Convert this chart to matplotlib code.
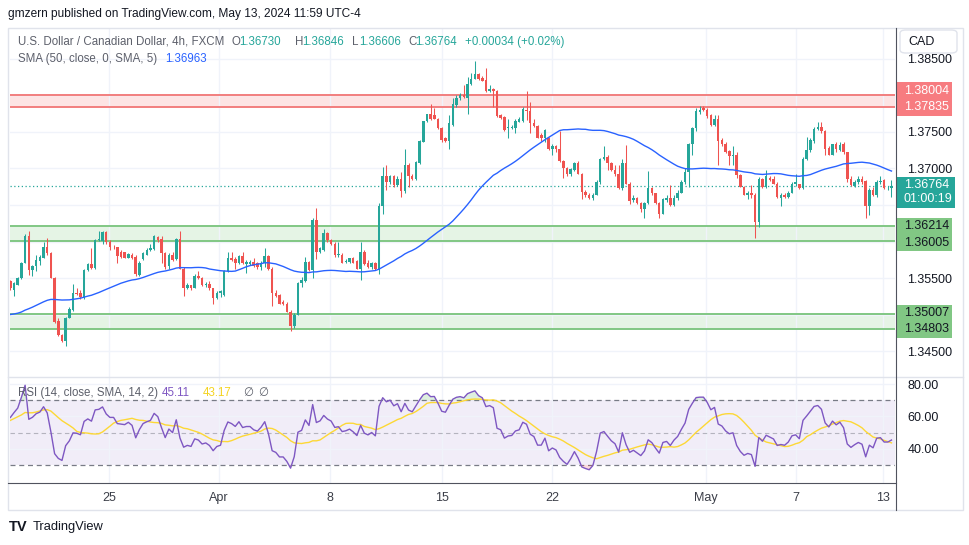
import matplotlib
matplotlib.use("Agg")
import matplotlib.pyplot as plt
from matplotlib.patches import Rectangle, FancyBboxPatch
from matplotlib.lines import Line2D
import numpy as np
import pandas as pd

plt.rcParams['font.family'] = ['Liberation Sans', 'DejaVu Sans']

# ---------------- data (USD/CAD 4h, FXCM) ----------------
opens = [
    1.3546, 1.3534, 1.3541, 1.3550, 1.3571, 1.3607, 1.3561, 1.3566, 1.3574, 1.3578,
    1.3592, 1.3584, 1.3550, 1.3491, 1.3472, 1.3464, 1.3496, 1.3506, 1.3530, 1.3530,
    1.3523, 1.3561, 1.3569, 1.3564, 1.3602, 1.3601, 1.3613, 1.3600, 1.3593, 1.3592,
    1.3586, 1.3585, 1.3578, 1.3582, 1.3579, 1.3554, 1.3576, 1.3582, 1.3588, 1.3590,
    1.3606, 1.3604, 1.3584, 1.3567, 1.3582, 1.3576, 1.3604, 1.3563, 1.3536, 1.3540,
    1.3537, 1.3553, 1.3550, 1.3540, 1.3542, 1.3536, 1.3523, 1.3529, 1.3527, 1.3559,
    1.3578, 1.3576, 1.3570, 1.3580, 1.3569, 1.3569, 1.3572, 1.3570, 1.3565, 1.3571,
    1.3580, 1.3563, 1.3530, 1.3527, 1.3517, 1.3515, 1.3504, 1.3485, 1.3500, 1.3543,
    1.3546, 1.3572, 1.3561, 1.3629, 1.3586, 1.3588, 1.3611, 1.3602, 1.3597, 1.3581,
    1.3582, 1.3572, 1.3572, 1.3577, 1.3573, 1.3563, 1.3586, 1.3571, 1.3565, 1.3570,
    1.3563, 1.3648, 1.3690, 1.3681, 1.3689, 1.3677, 1.3686, 1.3669, 1.3704, 1.3690,
    1.3685, 1.3707, 1.3736, 1.3765, 1.3774, 1.3773, 1.3767, 1.3755, 1.3741, 1.3737,
    1.3760, 1.3787, 1.3796, 1.3800, 1.3797, 1.3816, 1.3823, 1.3829, 1.3824, 1.3821,
    1.3806, 1.3808, 1.3806, 1.3773, 1.3771, 1.3755, 1.3755, 1.3755, 1.3764, 1.3765,
    1.3780, 1.3778, 1.3762, 1.3758, 1.3746, 1.3741, 1.3741, 1.3727, 1.3731, 1.3727,
    1.3710, 1.3700, 1.3692, 1.3698, 1.3708, 1.3693, 1.3668, 1.3664, 1.3659, 1.3664,
    1.3681, 1.3713, 1.3716, 1.3707, 1.3698, 1.3693, 1.3673, 1.3708, 1.3679, 1.3657,
    1.3659, 1.3652, 1.3644, 1.3652, 1.3673, 1.3666, 1.3652, 1.3638, 1.3657, 1.3660,
    1.3650, 1.3659, 1.3667, 1.3681, 1.3695, 1.3733, 1.3755, 1.3777, 1.3782, 1.3780,
    1.3773, 1.3760, 1.3767, 1.3739, 1.3734, 1.3724, 1.3717, 1.3719, 1.3691, 1.3675,
    1.3664, 1.3667, 1.3664, 1.3627, 1.3685, 1.3674, 1.3687, 1.3686, 1.3679, 1.3660,
    1.3663, 1.3661, 1.3667, 1.3678, 1.3678, 1.3673, 1.3713, 1.3725, 1.3737, 1.3754,
    1.3757, 1.3751, 1.3728, 1.3719, 1.3733, 1.3725, 1.3733, 1.3722, 1.3686, 1.3676,
    1.3681, 1.3686, 1.3683, 1.3649, 1.3670, 1.3663, 1.3681, 1.3684, 1.3673, 1.36730,
]
highs = [
    1.3547, 1.3544, 1.3552, 1.3572, 1.3610, 1.3615, 1.3568, 1.3581, 1.3581, 1.3599,
    1.3605, 1.3585, 1.3552, 1.3495, 1.3473, 1.3497, 1.3511, 1.3542, 1.3536, 1.3534,
    1.3562, 1.3570, 1.3591, 1.3604, 1.3614, 1.3614, 1.3614, 1.3602, 1.3595, 1.3593,
    1.3588, 1.3586, 1.3584, 1.3584, 1.3581, 1.3573, 1.3586, 1.3591, 1.3597, 1.3609,
    1.3607, 1.3607, 1.3586, 1.3584, 1.3586, 1.3605, 1.3614, 1.3565, 1.3543, 1.3541,
    1.3555, 1.3560, 1.3552, 1.3545, 1.3546, 1.3537, 1.3532, 1.3534, 1.3561, 1.3586,
    1.3586, 1.3579, 1.3581, 1.3586, 1.3575, 1.3575, 1.3578, 1.3572, 1.3573, 1.3591,
    1.3581, 1.3565, 1.3534, 1.3528, 1.3520, 1.3517, 1.3506, 1.3502, 1.3545, 1.3552,
    1.3579, 1.3574, 1.3632, 1.3646, 1.3593, 1.3617, 1.3613, 1.3604, 1.3600, 1.3600,
    1.3584, 1.3576, 1.3578, 1.3579, 1.3575, 1.3599, 1.3588, 1.3575, 1.3572, 1.3572,
    1.3652, 1.3702, 1.3704, 1.3691, 1.3691, 1.3689, 1.3695, 1.3726, 1.3708, 1.3693,
    1.3710, 1.3739, 1.3765, 1.3774, 1.3788, 1.3782, 1.3769, 1.3757, 1.3743, 1.3773,
    1.3796, 1.3800, 1.3803, 1.3814, 1.3825, 1.3830, 1.3847, 1.3830, 1.3827, 1.3838,
    1.3814, 1.3810, 1.3807, 1.3775, 1.3772, 1.3768, 1.3759, 1.3768, 1.3771, 1.3784,
    1.3806, 1.3791, 1.3768, 1.3759, 1.3748, 1.3754, 1.3743, 1.3733, 1.3732, 1.3751,
    1.3711, 1.3702, 1.3700, 1.3709, 1.3710, 1.3694, 1.3670, 1.3666, 1.3666, 1.3684,
    1.3714, 1.3730, 1.3718, 1.3709, 1.3705, 1.3705, 1.3713, 1.3732, 1.3682, 1.3663,
    1.3661, 1.3654, 1.3654, 1.3696, 1.3675, 1.3667, 1.3654, 1.3660, 1.3663, 1.3677,
    1.3663, 1.3670, 1.3684, 1.3700, 1.3735, 1.3757, 1.3782, 1.3786, 1.3786, 1.3782,
    1.3775, 1.3773, 1.3773, 1.3741, 1.3736, 1.3725, 1.3730, 1.3723, 1.3693, 1.3676,
    1.3669, 1.3677, 1.3666, 1.3688, 1.3687, 1.3698, 1.3689, 1.3689, 1.3682, 1.3666,
    1.3666, 1.3669, 1.3682, 1.3693, 1.3679, 1.3716, 1.3743, 1.3741, 1.3756, 1.3764,
    1.3764, 1.3752, 1.3730, 1.3734, 1.3736, 1.3736, 1.3736, 1.3723, 1.3689, 1.3684,
    1.3689, 1.3689, 1.3684, 1.3673, 1.3675, 1.3684, 1.3689, 1.3686, 1.3676, 1.36846,
]
lows = [
    1.3534, 1.3526, 1.3540, 1.3549, 1.3570, 1.3554, 1.3553, 1.3560, 1.3568, 1.3577,
    1.3581, 1.3550, 1.3488, 1.3471, 1.3463, 1.3457, 1.3495, 1.3505, 1.3527, 1.3522,
    1.3521, 1.3559, 1.3563, 1.3563, 1.3601, 1.3597, 1.3597, 1.3588, 1.3590, 1.3571,
    1.3578, 1.3577, 1.3577, 1.3576, 1.3553, 1.3553, 1.3575, 1.3581, 1.3587, 1.3588,
    1.3600, 1.3571, 1.3563, 1.3563, 1.3573, 1.3575, 1.3562, 1.3526, 1.3535, 1.3534,
    1.3536, 1.3549, 1.3539, 1.3538, 1.3534, 1.3515, 1.3521, 1.3524, 1.3526, 1.3558,
    1.3574, 1.3563, 1.3569, 1.3569, 1.3557, 1.3568, 1.3565, 1.3563, 1.3561, 1.3565,
    1.3561, 1.3512, 1.3524, 1.3514, 1.3513, 1.3503, 1.3477, 1.3482, 1.3499, 1.3538,
    1.3545, 1.3559, 1.3550, 1.3576, 1.3584, 1.3587, 1.3600, 1.3595, 1.3579, 1.3579,
    1.3570, 1.3570, 1.3571, 1.3570, 1.3562, 1.3547, 1.3568, 1.3564, 1.3563, 1.3561,
    1.3556, 1.3638, 1.3670, 1.3679, 1.3675, 1.3676, 1.3661, 1.3667, 1.3675, 1.3684,
    1.3684, 1.3706, 1.3736, 1.3764, 1.3766, 1.3767, 1.3754, 1.3736, 1.3736, 1.3726,
    1.3758, 1.3784, 1.3793, 1.3796, 1.3775, 1.3814, 1.3822, 1.3821, 1.3819, 1.3805,
    1.3804, 1.3784, 1.3771, 1.3767, 1.3751, 1.3742, 1.3754, 1.3748, 1.3763, 1.3764,
    1.3766, 1.3748, 1.3757, 1.3741, 1.3737, 1.3736, 1.3725, 1.3718, 1.3723, 1.3709,
    1.3687, 1.3690, 1.3690, 1.3696, 1.3692, 1.3658, 1.3661, 1.3658, 1.3657, 1.3663,
    1.3679, 1.3711, 1.3698, 1.3696, 1.3690, 1.3672, 1.3670, 1.3678, 1.3651, 1.3654,
    1.3651, 1.3641, 1.3632, 1.3651, 1.3664, 1.3651, 1.3632, 1.3637, 1.3654, 1.3648,
    1.3649, 1.3657, 1.3666, 1.3679, 1.3675, 1.3718, 1.3751, 1.3775, 1.3778, 1.3769,
    1.3758, 1.3758, 1.3704, 1.3731, 1.3721, 1.3705, 1.3705, 1.3687, 1.3674, 1.3663,
    1.3658, 1.3659, 1.3605, 1.3620, 1.3673, 1.3673, 1.3683, 1.3678, 1.3660, 1.3649,
    1.3659, 1.3660, 1.3666, 1.3676, 1.3672, 1.3672, 1.3711, 1.3723, 1.3735, 1.3752,
    1.3749, 1.3718, 1.3718, 1.3718, 1.3723, 1.3724, 1.3720, 1.3682, 1.3676, 1.3674,
    1.3679, 1.3679, 1.3632, 1.3636, 1.3662, 1.3661, 1.3679, 1.3672, 1.3670, 1.36606,
]
closes = [
    1.3536, 1.3543, 1.3550, 1.3571, 1.3607, 1.3561, 1.3566, 1.3575, 1.3579, 1.3593,
    1.3584, 1.3550, 1.3490, 1.3472, 1.3464, 1.3496, 1.3508, 1.3529, 1.3528, 1.3524,
    1.3561, 1.3569, 1.3564, 1.3602, 1.3604, 1.3613, 1.3599, 1.3592, 1.3592, 1.3580,
    1.3579, 1.3578, 1.3583, 1.3578, 1.3555, 1.3571, 1.3584, 1.3588, 1.3591, 1.3607,
    1.3602, 1.3584, 1.3565, 1.3582, 1.3575, 1.3604, 1.3563, 1.3536, 1.3540, 1.3537,
    1.3553, 1.3550, 1.3540, 1.3542, 1.3536, 1.3523, 1.3530, 1.3532, 1.3559, 1.3578,
    1.3575, 1.3570, 1.3580, 1.3570, 1.3572, 1.3572, 1.3567, 1.3565, 1.3571, 1.3580,
    1.3563, 1.3530, 1.3526, 1.3515, 1.3515, 1.3504, 1.3485, 1.3500, 1.3543, 1.3547,
    1.3572, 1.3561, 1.3629, 1.3585, 1.3591, 1.3611, 1.3602, 1.3597, 1.3581, 1.3583,
    1.3571, 1.3573, 1.3577, 1.3571, 1.3563, 1.3586, 1.3569, 1.3565, 1.3570, 1.3563,
    1.3648, 1.3690, 1.3681, 1.3689, 1.3677, 1.3686, 1.3669, 1.3704, 1.3689, 1.3685,
    1.3709, 1.3737, 1.3765, 1.3774, 1.3767, 1.3768, 1.3755, 1.3739, 1.3737, 1.3762,
    1.3788, 1.3797, 1.3800, 1.3798, 1.3816, 1.3823, 1.3829, 1.3822, 1.3819, 1.3806,
    1.3809, 1.3806, 1.3772, 1.3769, 1.3752, 1.3756, 1.3757, 1.3765, 1.3767, 1.3781,
    1.3778, 1.3762, 1.3758, 1.3742, 1.3742, 1.3752, 1.3727, 1.3731, 1.3727, 1.3710,
    1.3700, 1.3692, 1.3699, 1.3708, 1.3693, 1.3668, 1.3663, 1.3659, 1.3664, 1.3682,
    1.3713, 1.3716, 1.3707, 1.3698, 1.3692, 1.3673, 1.3708, 1.3679, 1.3656, 1.3660,
    1.3652, 1.3644, 1.3652, 1.3673, 1.3666, 1.3652, 1.3638, 1.3658, 1.3660, 1.3650,
    1.3660, 1.3667, 1.3681, 1.3695, 1.3733, 1.3755, 1.3778, 1.3780, 1.3780, 1.3772,
    1.3760, 1.3767, 1.3737, 1.3733, 1.3723, 1.3717, 1.3719, 1.3691, 1.3675, 1.3664,
    1.3667, 1.3664, 1.3627, 1.3685, 1.3674, 1.3689, 1.3684, 1.3679, 1.3661, 1.3663,
    1.3661, 1.3667, 1.3679, 1.3681, 1.3673, 1.3713, 1.3725, 1.3739, 1.3754, 1.3757,
    1.3751, 1.3727, 1.3719, 1.3733, 1.3726, 1.3732, 1.3722, 1.3686, 1.3677, 1.3682,
    1.3686, 1.3682, 1.3649, 1.3670, 1.3663, 1.3682, 1.3683, 1.3673, 1.3673, 1.36764,
]
# closes of the 49 candles before the visible window (needed by SMA 50 / RSI 14)
prior_closes = [
    1.3505, 1.3498, 1.3490, 1.3478, 1.3465, 1.3458, 1.3452, 1.3460, 1.3472, 1.3480,
    1.3488, 1.3495, 1.3490, 1.3484, 1.3492, 1.3500, 1.3496, 1.3488, 1.3482, 1.3490,
    1.3498, 1.3505, 1.3512, 1.3508, 1.3500, 1.3494, 1.3486, 1.3480, 1.3475, 1.3483,
    1.3495, 1.3508, 1.3516, 1.3520, 1.3512, 1.3505, 1.3498, 1.3504, 1.3515, 1.3522,
    1.3530, 1.3526, 1.3520, 1.3516, 1.3524, 1.3532, 1.3538, 1.3545, 1.3540,
]

date_tick_pos = [26.8, 56.6, 86.7, 117.1, 146.9, 188.7, 213.1, 236.7]
date_tick_labels = ['25', 'Apr', '8', '15', '22', 'May', '7', '13']
price_ticks = [1.345, 1.350, 1.355, 1.360, 1.365, 1.370, 1.375, 1.380, 1.385]
price_labels = ['1.34500', '', '1.35500', '', '', '1.37000', '1.37500', '', '1.38500']
rsi_ticks = [40, 60, 80]
rsi_labels = ['40.00', '60.00', '80.00']

resistance_zone = (1.37835, 1.38004)
support_zones = [(1.36005, 1.36214), (1.34803, 1.35007)]
last_price = 1.36764
countdown = '01:00:19'
change_text = '+0.00034 (+0.02%)'
sma_value_text = '1.36963'
rsi_value_text = '45.11'
rsi_ma_value_text = '43.17'

# ---------------- indicators ----------------
n = len(closes)
allc = pd.Series(prior_closes + closes)
sma = allc.rolling(50).mean().values[-n:]
d = allc.diff()
gain = d.clip(lower=0).ewm(alpha=1 / 14, adjust=False).mean()
loss = (-d.clip(upper=0)).ewm(alpha=1 / 14, adjust=False).mean()
rsi_full = 100 - 100 / (1 + gain / loss)
rsi_ma_full = rsi_full.rolling(14).mean()
rsi = rsi_full.values[-n:]
rsi_ma = rsi_ma_full.values[-n:]

# ---------------- figure ----------------
W, H = 970, 545
fig = plt.figure(figsize=(W / 100, H / 100), dpi=100)
fig.patch.set_facecolor('white')


def fx(x):
    return x / W


def fy(y):
    return 1 - y / H


L_PX, R_PX = 10, 895
TOP_PX, MID_PX, BOT_PX = 28, 376.5, 482.5

ax = fig.add_axes([fx(L_PX), fy(MID_PX), fx(R_PX) - fx(L_PX), fy(TOP_PX) - fy(MID_PX)])
ax2 = fig.add_axes([fx(L_PX), fy(BOT_PX), fx(R_PX) - fx(L_PX), fy(MID_PX) - fy(BOT_PX)], sharex=ax)

UP, DN = '#26a69a', '#ef5350'
TXT = '#131722'
GRID = '#f0f3fa'

o = np.array(opens); h = np.array(highs); l = np.array(lows); c = np.array(closes)
idx = np.arange(n)
cols = np.where(c >= o, UP, DN)

# zones
ax.axhspan(*resistance_zone, color='#fde4e4', lw=0, zorder=1)
for yv in resistance_zone:
    ax.axhline(yv, color='#f27e7e', lw=1.4, zorder=2)
for z in support_zones:
    ax.axhspan(*z, color='#e5f4e5', lw=0, zorder=1)
    for yv in z:
        ax.axhline(yv, color='#81c784', lw=1.4, zorder=2)

# candles
ax.vlines(idx, l, h, colors=cols, lw=0.75, zorder=3)
body = np.maximum(np.abs(c - o), 0.00004)
ax.bar(idx, body, bottom=np.minimum(o, c), width=0.68, color=cols, lw=0, zorder=4)

# SMA
ax.plot(idx, sma, color='#2962ff', lw=1.0, zorder=5)
# last price line
ax.axhline(last_price, color=UP, lw=0.9, ls=(0, (1, 2)), zorder=2)

ax.set_xlim(-0.1, 239.95)
ax.set_ylim(1.34153, 1.38921)
ax.set_yticks(price_ticks)
ax.set_yticklabels(price_labels)
ax.yaxis.tick_right()
ax.tick_params(axis='y', length=0, pad=9, labelsize=9, labelcolor=TXT)
ax.set_xticks(date_tick_pos)
ax.tick_params(axis='x', length=0, labelbottom=False)
ax.grid(True, color=GRID, lw=1, zorder=0)
for s in ax.spines.values():
    s.set_visible(False)

# RSI pane
ax2.axhspan(30, 70, color='#7e57c2', alpha=0.1, lw=0, zorder=1)
ax2.axhline(70, color='#787b86', lw=0.9, ls=(0, (4, 3)), zorder=2)
ax2.axhline(30, color='#787b86', lw=0.9, ls=(0, (4, 3)), zorder=2)
ax2.axhline(50, color='#787b86', lw=0.8, ls=(0, (4, 3)), alpha=0.5, zorder=2)
ax2.fill_between(idx, rsi, 70, where=rsi >= 70, interpolate=True, color='#4caf50', alpha=0.18, lw=0, zorder=2)
ax2.fill_between(idx, rsi, 30, where=rsi <= 30, interpolate=True, color='#f23645', alpha=0.18, lw=0, zorder=2)
ax2.plot(idx, rsi_ma, color='#fdd835', lw=1.0, zorder=3)
ax2.plot(idx, rsi, color='#7e57c2', lw=1.0, zorder=4)
ax2.set_ylim(19.2, 84.7)
ax2.set_yticks(rsi_ticks)
ax2.set_yticklabels(rsi_labels)
ax2.yaxis.tick_right()
ax2.tick_params(axis='y', length=0, pad=9, labelsize=9, labelcolor=TXT)
ax2.set_xticks(date_tick_pos)
ax2.set_xticklabels(date_tick_labels)
ax2.tick_params(axis='x', length=0, pad=6.5, labelsize=9, labelcolor='#3b3e48')
ax2.grid(True, color=GRID, lw=1, zorder=0)
for s in ax2.spines.values():
    s.set_visible(False)

# frame / separators
fig.patches.append(Rectangle((fx(8), fy(509.5)), fx(963) - fx(8), fy(28) - fy(509.5),
                             transform=fig.transFigure, fill=False, edgecolor='#e0e3eb', lw=1))
fig.lines.append(Line2D([fx(8), fx(963)], [fy(MID_PX), fy(MID_PX)], transform=fig.transFigure,
                        color='#e0e3eb', lw=1))
fig.lines.append(Line2D([fx(895.5), fx(895.5)], [fy(28), fy(509.5)], transform=fig.transFigure,
                        color='#50535e', lw=0.8))
fig.lines.append(Line2D([fx(8), fx(895.5)], [fy(483), fy(483)], transform=fig.transFigure,
                        color='#50535e', lw=0.8))


def box(x0, y0, x1, y1, color):
    fig.patches.append(Rectangle((fx(x0), fy(y1)), fx(x1) - fx(x0), fy(y0) - fy(y1),
                                 transform=fig.transFigure, facecolor=color, edgecolor='none'))


def ftext(x, y, s, color=TXT, size=9, **kw):
    fig.text(fx(x), fy(y), s, color=color, fontsize=size, va='center', ha='left', **kw)


# right-scale coloured labels
box(896, 82, 952, 116, '#f77c80')
ftext(904, 91, f'{resistance_zone[1]:.5f}', 'white')
ftext(904, 107, f'{resistance_zone[0]:.5f}', 'white')
box(896, 177, 955, 208, UP)
ftext(904, 185, f'{last_price:.5f}', 'white')
ftext(904, 199, countdown, 'white')
box(896, 218, 952, 251, '#81c784')
ftext(904, 226, f'{support_zones[0][1]:.5f}', TXT)
ftext(904, 243, f'{support_zones[0][0]:.5f}', TXT)
box(896, 305, 952, 338, '#81c784')
ftext(904, 313, f'{support_zones[1][1]:.5f}', TXT)
ftext(904, 329, f'{support_zones[1][0]:.5f}', TXT)

# CAD button
fig.patches.append(FancyBboxPatch((fx(900), fy(53)), fx(957) - fx(900), fy(30) - fy(53),
                                  boxstyle='round,pad=0,rounding_size=0.006', transform=fig.transFigure,
                                  facecolor='white', edgecolor='#e0e3eb', lw=1, zorder=2))
ftext(908, 42, 'CAD', TXT, 9, zorder=4)

# header and legends
LS = 8.3
ftext(8, 14, 'gmzern published on TradingView.com, May 13, 2024 11:59 UTC-4', TXT, 8.6)
GRAY = '#5d606b'
ftext(18, 42, 'U.S. Dollar / Canadian Dollar, 4h, FXCM', GRAY, LS)
for lab, val, xx in [('O', opens[-1], 232), ('H', highs[-1], 295), ('L', lows[-1], 352), ('C', closes[-1], 408)]:
    ftext(xx, 42, lab, GRAY, LS)
    ftext(xx + 7.5, 42, f'{val:.5f}', UP, LS)
ftext(465, 42, change_text, UP, LS)
ftext(18, 59, 'SMA (50, close, 0, SMA, 5)', GRAY, LS)
ftext(165, 59, sma_value_text, '#2962ff', LS)
ftext(18, 393, 'RSI (14, close, SMA, 14, 2)', GRAY, LS)
ftext(162, 393, rsi_value_text, '#7e57c2', LS)
ftext(203, 393, rsi_ma_value_text, '#f5d31f', LS)
ftext(243, 393, '\u2205', GRAY, LS)
ftext(258, 393, '\u2205', GRAY, LS)

# TradingView logo
fig.text(fx(9), fy(527), 'TV', color=TXT, fontsize=10.5, fontweight='heavy', va='center', ha='left')
ftext(33, 527, 'TradingView', TXT, 9.3)

fig.savefig('out.png', dpi=100, facecolor='white')
